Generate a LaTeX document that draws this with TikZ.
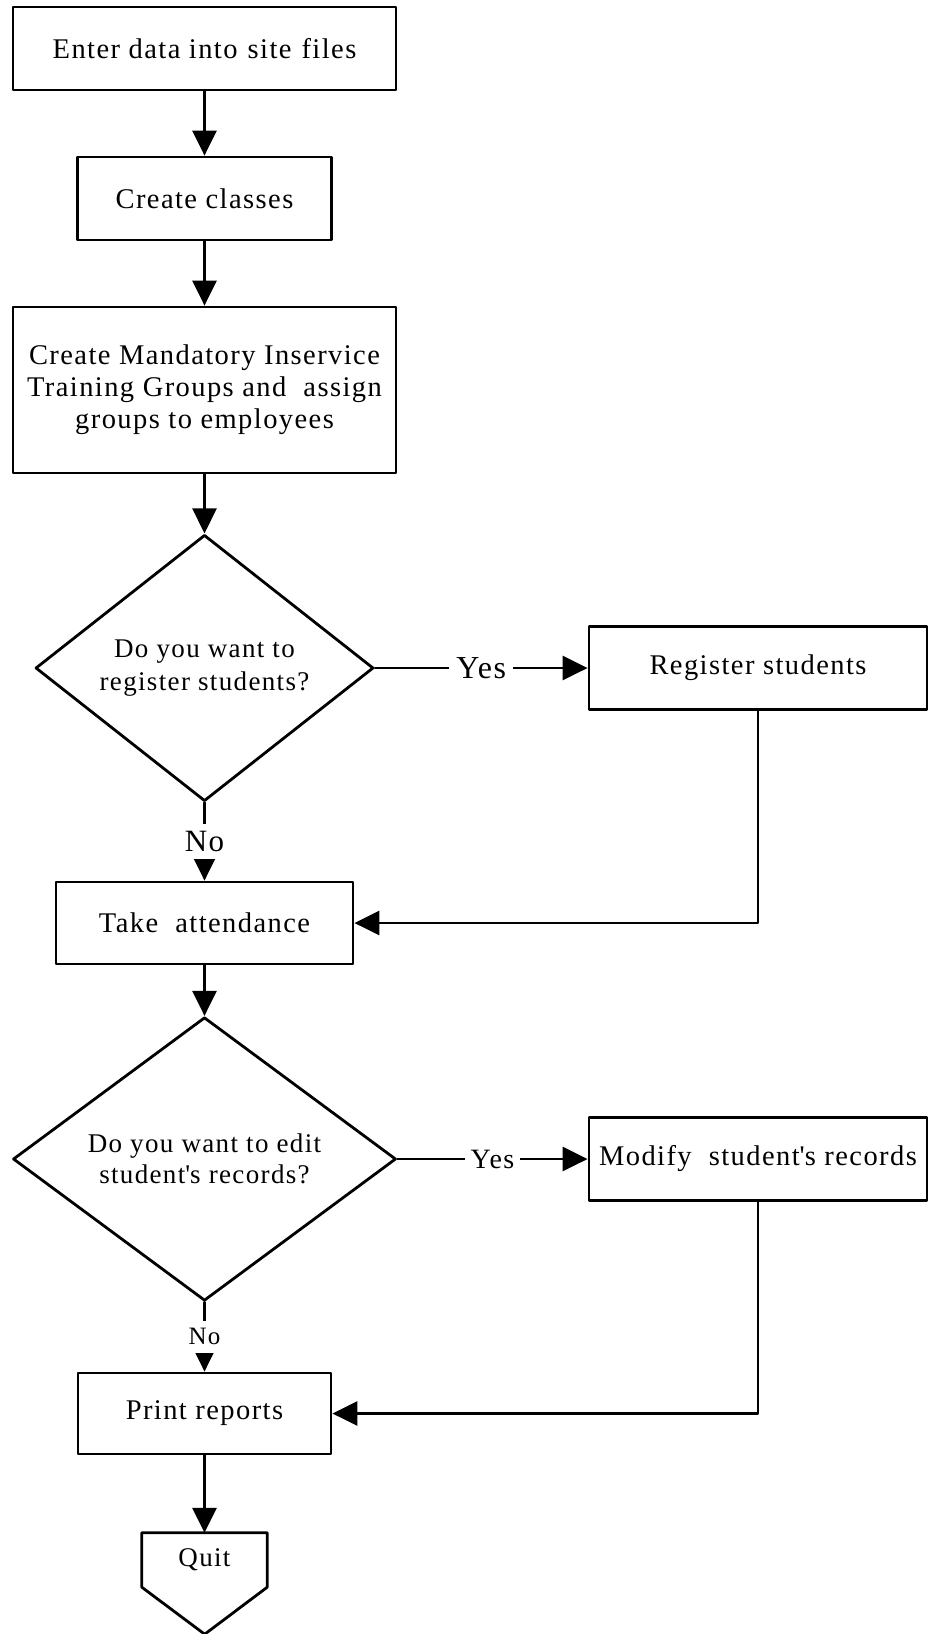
\documentclass[tikz,border=0pt]{standalone}
\usepackage{fontspec}
\setmainfont{Liberation Serif}[LetterSpace=5]
\usetikzlibrary{arrows.meta,shapes.geometric}
\tikzset{
  every picture/.append style={line cap=round,line join=round},
  flow box/.style={draw,rectangle,line width=2.8pt,inner sep=0pt,minimum height=83pt,align=center,font=\fontsize{28.5}{32}\selectfont},
  flow decision/.style={draw,diamond,line width=2.8pt,inner sep=0pt,minimum height=253pt,align=center,font=\fontsize{27}{33}\selectfont},
  flow arrow/.style={line width=2.6pt,-{Triangle[length=25pt,width=24pt]}},
  flow label/.style={fill=white,inner sep=7pt}
}

\begin{document}
\begin{tikzpicture}[x=1pt,y=-1pt]
\useasboundingbox (0,0) rectangle (928,1634);
\node[flow box,minimum width=383pt] (enter) at (204.5,48.5) {Enter data into\hspace{1.5pt} site\hspace{1.5pt} files};
\node[flow box,minimum width=254pt] (classes) at (204.5,198.5) {Create classes};
\node[flow box,minimum width=383pt,minimum height=166pt] (groups) at (204.5,390)
  {Create Mandatory Inservice\\Training Groups and~ assign\\groups to employees};
\node[flow decision,minimum width=338pt] (ask reg) at (204.5,668) {Do you want to\\register students?};
\node[flow box,minimum width=338pt] (register) at (758,668) {Register students};
\node[flow box,minimum width=297pt,minimum height=82pt] (attend) at (204.5,923) {Take~ attendance};
\node[flow decision,minimum width=383pt,font=\fontsize{27}{31}\selectfont] (ask edit) at (204.5,1159)
  {Do you want to edit\\student\textquotesingle s records?};
\node[flow box,minimum width=338pt] (modify) at (758,1159) {Modify~ student\textquotesingle s records};
\node[flow box,minimum width=253pt,minimum height=81pt] (print) at (204.5,1413.5) {Print reports};
\node[rectangle,inner sep=0pt,minimum width=125pt,minimum height=54pt,font=\fontsize{27}{28}\selectfont] (quit) at (204.5,1560) {Quit};
\draw[line width=2.8pt] (quit.north west) -- (quit.north east) -- (quit.south east) -- ++(-62.5,47) -- (quit.south west) -- cycle;
\draw[flow arrow] (enter) -- (classes);
\draw[flow arrow] (classes) -- (groups);
\draw[flow arrow] (groups) -- (ask reg);
\draw[flow arrow] (ask reg) -- node[flow label,font=\fontsize{32}{34}\selectfont] {Yes} (register);
\draw[flow arrow] (ask reg) -- node[flow label,font=\fontsize{31}{33}\selectfont] {No} (attend);
\draw[flow arrow] (register) |- (attend);
\draw[flow arrow] (attend) -- (ask edit);
\draw[flow arrow] (ask edit) -- node[flow label,inner sep=6pt,font=\fontsize{28}{30}\selectfont] {Yes} (modify);
\draw[flow arrow] (ask edit) -- node[flow label,inner sep=8pt,font=\fontsize{25}{27}\selectfont] {No} (print);
\draw[flow arrow] (modify) |- (print);
\draw[flow arrow] (print) -- (quit);
\end{tikzpicture}
\end{document}
